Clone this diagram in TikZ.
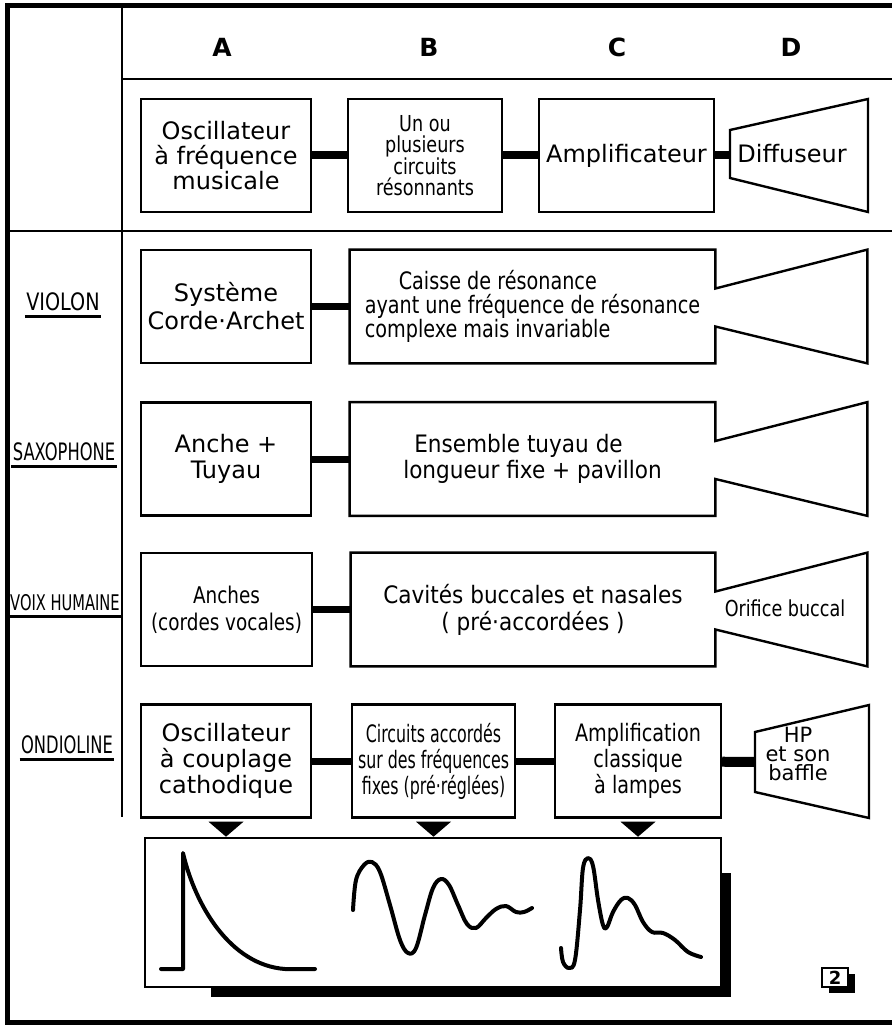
\documentclass[tikz,border=0pt]{standalone}
\usepackage{fontspec}
\setmainfont{DejaVu Sans}
\newfontfamily\midfont{DejaVu Sans}[FakeStretch=0.9]
\newfontfamily\narrowfont{DejaVu Sans}[FakeStretch=0.8]
\newfontfamily\tightfont{DejaVu Sans}[FakeStretch=0.66]
\newfontfamily\labelfont{DejaVu Sans}[FakeStretch=0.68]

\begin{document}
\begin{tikzpicture}[x=0.5pt, y=-0.5pt,
    font=\fontsize{12}{12.5}\selectfont,
    blk/.style={draw, line width=1.2pt, minimum height=56.5pt, inner sep=0pt, align=center},
    openblk/.style={minimum height=56.5pt, inner sep=0pt, align=center},
    outline/.style={draw, line width=1.2pt, line join=miter},
    link/.style={draw, line width=3.5pt},
    lab/.style={font=\labelfont\fontsize{12}{13}\selectfont, inner xsep=0.5pt, inner ysep=2.5pt},
    hdr/.style={font=\bfseries\fontsize{12.5}{13}\selectfont},
    trace/.style={line width=2pt, line cap=round, line join=round}]

  \useasboundingbox (0,0) rectangle (892,1026);

  % frame
  \draw[line width=2.5pt, line join=miter] (892,6) -- (7,6) -- (7,1022) -- (892,1022);
  \draw[line width=1pt] (122,6) -- (122,817);
  \draw[line width=0.8pt] (122,79) -- (892,79);
  \draw[line width=1pt] (7,231) -- (892,231);

  \node[hdr] (colA) at (222,47) {A};
  \node[hdr] (colB) at (429,47) {B};
  \node[hdr] (colC) at (617,47) {C};
  \node[hdr] (colD) at (791,47) {D};

  % general chain
  \node[blk, minimum width=85pt] (osc) at (226,155.5) {Oscillateur\\à fréquence\\musicale};
  \node[blk, minimum width=77pt, font=\narrowfont\fontsize{11}{10.75}\selectfont] (res) at (425,155.5)
    {Un ou\\plusieurs\\circuits\\résonnants};
  \node[blk, minimum width=87.5pt] (amp) at (626.5,155.5) {Amplificateur};
  \draw[outline] (730,130) -- (868,99) -- (868,212) -- (730,178) -- cycle;
  \node (dif) at (792,154) {Diffuseur};
  \coordinate (difin) at (730,155.5);
  \draw[link, line width=4pt] (osc) -- (res);
  \draw[link, line width=4pt] (res) -- (amp);
  \draw[link, line width=4pt] (amp) -- (difin);

  % violon
  \node[lab, font=\narrowfont\fontsize{12}{13}\selectfont] (violin) at (63,302) {VIOLON};
  \node[blk, minimum width=85pt, font=\fontsize{12}{14}\selectfont] (bow) at (226,306.5) {Système\\Corde·Archet};
  \node[openblk, minimum width=182.5pt, align=left, font=\narrowfont\fontsize{12}{12}\selectfont] (body) at (532.5,306.5)
    {\hspace*{17pt}Caisse de résonance\\ayant une fréquence de résonance\\complexe mais invariable};
  \draw[link] (bow) -- (body);

  % saxophone
  \node[lab] (sax) at (64,452) {SAXOPHONE};
  \node[blk, minimum width=85pt, font=\fontsize{12}{13}\selectfont] (reed) at (226,459) {Anche +\\Tuyau};
  \node[openblk, minimum width=182.5pt, align=left, font=\midfont\fontsize{12}{13}\selectfont] (tube) at (532.5,459)
    {\hspace*{5.5pt}Ensemble tuyau de\\longueur fixe + pavillon};
  \draw[link] (reed) -- (tube);

  % voix humaine
  \node[lab, font=\labelfont\fontsize{10.8}{13}\selectfont] (voice) at (65,603) {VOIX HUMAINE};
  \node[blk, minimum width=85.5pt, font=\narrowfont\fontsize{11.5}{13.5}\selectfont] (cords) at (226.5,609.5)
    {Anches\\(cordes vocales)};
  \node[openblk, minimum width=182pt, font=\midfont\fontsize{12}{13.5}\selectfont] (cavity) at (533,609.5)
    {Cavités buccales et nasales\\( pré·accordées )};
  \node[font=\narrowfont\fontsize{11}{12}\selectfont] (orifice) at (785,608) {Orifice buccal};
  \draw[link] (cords) -- (cavity);

  \foreach \n in {body,tube,cavity}
    \draw[outline] ([yshift=9pt]\n.east) -- (\n.north east) -- (\n.north west)
      -- (\n.south west) -- (\n.south east) -- ([yshift=-10pt]\n.east)
      -- ([xshift=76pt]\n.south east) -- ([xshift=76pt]\n.north east) -- cycle;

  % ondioline
  \node[lab] (ondio) at (67,745) {ONDIOLINE};
  \node[blk, minimum width=85pt, font=\fontsize{12}{13}\selectfont] (cathode) at (226,761) {Oscillateur\\à couplage\\cathodique};
  \node[blk, minimum width=81.5pt, font=\tightfont\fontsize{12}{13}\selectfont] (tuned) at (433.5,761)
    {Circuits accordés\\sur des fréquences\\fixes (pré·réglées)};
  \node[blk, minimum width=83pt, font=\narrowfont\fontsize{12}{13}\selectfont] (lamps) at (638,761)
    {Amplification\\classique\\à lampes};
  \draw[outline] (755,732) -- (869,705) -- (869,818) -- (755,792) -- cycle;
  \node[align=center, font=\fontsize{10.5}{9.5}\selectfont] (hp) at (798,754) {HP\\et son\\baffle};
  \coordinate (hpin) at (755,762);
  \draw[link] (cathode) -- (tuned);
  \draw[link] (tuned) -- (lamps);
  \draw[link, line width=5pt] (lamps) -- (hpin);

  \foreach \n in {violin,sax,voice,ondio}
    \draw[line width=1.5pt] (\n.south west) -- (\n.south east);

  \foreach \n in {cathode,tuned,lamps}
    \fill ([xshift=-8.75pt,yshift=-1.5pt]\n.south) -- ++(17.5pt,0) -- ([yshift=-9pt]\n.south) -- cycle;

  % wave forms
  \fill (211,987) rectangle (731,997);
  \fill (721,873) rectangle (731,997);
  \node[draw, line width=1pt, fill=white, minimum width=288pt, minimum height=74.5pt] (traces) at (433,912.5) {};

  \draw[trace] (161,969) -- (183,969) -- (183,853) .. controls (195,905) and (230,965) .. (285,969) -- (315,969);
  \draw[trace] plot[smooth, tension=0.6] coordinates {(353,910) (356,880) (364,865) (372,862) (380,872)
    (390,905) (400,940) (408,953) (416,948) (425,915) (433,888) (441,879) (449,885) (458,905)
    (467,924) (476,928) (486,918) (496,909) (506,906) (516,912) (524,912) (532,908)};
  \draw[trace] plot[smooth, tension=0.6] coordinates {(561,948) (563,962) (569,968) (575,960) (580,910)
    (583,868) (588,858) (593,866) (598,900) (603,925) (607,927) (613,912) (621,900) (628,898)
    (635,905) (643,922) (652,932) (663,933) (675,940) (688,952) (701,957)};

  \fill (829,974) rectangle (855,993);
  \node[draw, fill=white, line width=0.8pt, minimum width=13pt, minimum height=9.5pt, inner sep=0pt,
        font=\bfseries\fontsize{9}{9}\selectfont] (fig) at (835,977.5) {2};
\end{tikzpicture}
\end{document}
